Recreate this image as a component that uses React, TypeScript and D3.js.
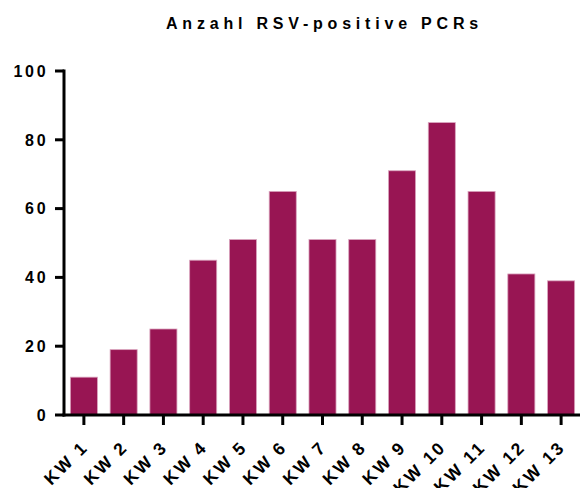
import React from "react";
import * as d3 from "d3";

const categories = ["KW 1", "KW 2", "KW 3", "KW 4", "KW 5", "KW 6", "KW 7", "KW 8", "KW 9", "KW 10", "KW 11", "KW 12", "KW 13"];
const values = [11, 19, 25, 45, 51, 65, 51, 51, 71, 85, 65, 41, 39];
const yTicks = [0, 20, 40, 60, 80, 100];
const title = "Anzahl RSV-positive PCRs";

const W = 580;
const H = 488;
const left = 64;
const right = 581;
const top = 71;
const bottom = 415;

export default function App() {
  const x = d3.scaleBand<string>().domain(categories).range([left, right]).paddingInner(0.32).paddingOuter(0.16);
  const y = d3.scaleLinear().domain([0, 100]).range([bottom, top]);
  const font = "Arial, 'Liberation Sans', Helvetica, sans-serif";
  return (
    <svg width={W} height={H} style={{ position: "absolute", left: 0, top: 0 }} fontFamily={font}>
      <rect width={W} height={H} fill="#fff" />
      <text x={324.5} y={29} textAnchor="middle" fontSize={16} fontWeight="bold" letterSpacing={4.8}>
        {title}
      </text>
      {categories.map((c, i) => (
        <rect
          key={c}
          x={x(c)!}
          y={y(values[i])}
          width={x.bandwidth()}
          height={bottom - y(values[i])}
          fill="#981553"
          stroke="#d9a3bd"
          strokeWidth={0.8}
        />
      ))}
      {/* y axis */}
      <line x1={left} x2={left} y1={top - 1.5} y2={bottom + 1.5} stroke="#000" strokeWidth={3} />
      {yTicks.map((t) => (
        <g key={t}>
          <line x1={left - 9} x2={left} y1={y(t)} y2={y(t)} stroke="#000" strokeWidth={3} />
          <text x={48.5} y={y(t)} dy="0.36em" textAnchor="end" fontSize={16} fontWeight="bold" letterSpacing={2.8}>
            {t}
          </text>
        </g>
      ))}
      {/* x axis */}
      <line x1={left - 1.5} x2={W} y1={bottom} y2={bottom} stroke="#000" strokeWidth={3} />
      {categories.map((c) => {
        const cx = x(c)! + x.bandwidth() / 2;
        return (
          <g key={c}>
            <line x1={cx} x2={cx} y1={bottom} y2={bottom + 10} stroke="#000" strokeWidth={3} />
            <text
              transform={`translate(${cx + 5.4},${bottom + 33}) rotate(-45)`}
              textAnchor="end"
              fontSize={17.5}
              fontWeight="bold"
              letterSpacing={2.5}
            >
              {c}
            </text>
          </g>
        );
      })}
    </svg>
  );
}
